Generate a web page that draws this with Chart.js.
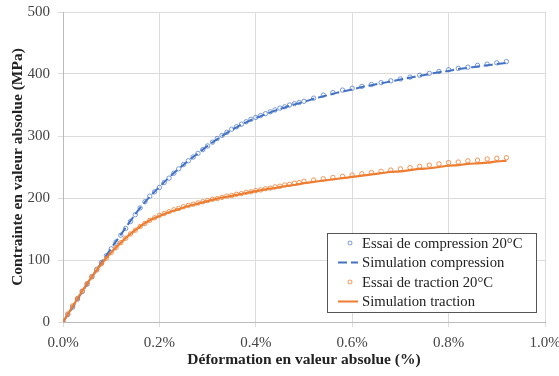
<!DOCTYPE html>
<html>
<head>
<meta charset="utf-8">
<script src="https://cdn.jsdelivr.net/npm/chart.js@4/dist/chart.umd.min.js"></script>
<style>
  html, body { margin: 0; padding: 0; background: #fff; }
  #wrap { width: 559px; height: 376px; position: relative; }
</style>
</head>
<body>
<div id="wrap"><canvas id="chart"></canvas></div>
<script>
// ---------------------------------------------------------------- data
var xTicks = [0, 0.2, 0.4, 0.6, 0.8, 1.0];   // deformation (%)
var yTicks = [0, 100, 200, 300, 400, 500];   // stress (MPa)

var seriesNames = ["Essai de compression 20°C", "Simulation compression",
                   "Essai de traction 20°C", "Simulation traction"];

// test points (strain %)
var testStrain = [0, 0.01, 0.02, 0.03, 0.04, 0.05, 0.06, 0.07, 0.08, 0.09,
  0.10, 0.11, 0.12, 0.13, 0.14, 0.15, 0.16, 0.17, 0.18, 0.19,
  0.20, 0.21, 0.22, 0.23, 0.24, 0.25, 0.26, 0.27, 0.28, 0.29,
  0.30, 0.31, 0.32, 0.33, 0.34, 0.35, 0.36, 0.37, 0.38, 0.39,
  0.40, 0.41, 0.42, 0.43, 0.44, 0.45, 0.46, 0.47, 0.48, 0.49, 0.50,
  0.52, 0.54, 0.56, 0.58, 0.60, 0.62, 0.64, 0.66, 0.68, 0.70,
  0.72, 0.74, 0.76, 0.78, 0.80, 0.82, 0.84, 0.86, 0.88, 0.90, 0.92];

var compTest = [0, 12, 24, 37, 49, 61, 73, 85, 96, 107,
  118, 129, 140, 151, 162, 173, 184, 194, 203, 210,
  217, 225, 232, 240, 247, 254, 260, 266, 272, 278,
  284, 290, 296, 301, 306, 311, 315, 319, 323, 327,
  330, 333, 336, 339, 342, 345, 347, 350, 352, 354, 356,
  361, 366, 370, 374, 377, 380, 383, 386, 389, 392,
  395, 398, 401, 404, 407, 409, 411, 414, 416, 418, 420];

var tracTest = [0, 13, 26, 38, 50, 62, 73, 84, 94, 103,
  112, 120, 128, 135, 142, 148, 154, 159, 164, 168,
  172, 175, 178, 181, 183, 186, 188, 190, 192, 194,
  196, 198, 199, 201, 203, 204, 206, 207, 209, 210,
  212, 213, 215, 216, 218, 219, 221, 222, 224, 225, 227,
  229, 231, 233, 235, 237, 239, 241, 243, 245, 247,
  249, 251, 253, 255, 257, 258, 260, 261, 263, 264, 265];

// simulation curves (strain %)
var simStrain = [0, 0.02, 0.04, 0.06, 0.08, 0.10, 0.12, 0.14, 0.16, 0.18,
  0.20, 0.22, 0.24, 0.26, 0.28, 0.30, 0.32, 0.34, 0.36, 0.38,
  0.40, 0.42, 0.44, 0.46, 0.48, 0.50, 0.52, 0.54, 0.56, 0.58,
  0.60, 0.62, 0.64, 0.66, 0.68, 0.70, 0.72, 0.74, 0.76, 0.78,
  0.80, 0.82, 0.84, 0.86, 0.88, 0.90, 0.92];

var compSim = [0, 24, 49, 73, 96, 119, 141, 163, 184, 202,
  218, 233, 247, 260, 272, 284, 295, 305, 314, 322,
  329, 335, 341, 346, 351, 355, 360, 364, 368, 372,
  375, 379, 382, 385, 388, 391, 394, 397, 400, 403,
  405, 408, 410, 412, 414, 416, 418];

var tracSim = [0, 25, 50, 73, 94, 112, 128, 142, 154, 164,
  171, 177, 182, 187, 191, 195, 199, 202, 205, 208,
  211, 214, 216, 219, 221, 224, 226, 228, 230, 232,
  234, 236, 238, 240, 242, 243, 245, 247, 248, 250,
  252, 253, 255, 256, 257, 259, 260];

var BLUE = "#4472C4", ORANGE = "#ED7D31";
var FONT = "'Liberation Serif', 'DejaVu Serif', serif";

function pts(xs, ys) {
  return xs.map(function (x, i) { return { x: x, y: ys[i] }; });
}

// ---------------------------------------------------------------- legend inside the plot
var boxLegend = {
  id: 'boxLegend',
  afterDraw: function (chart) {
    var ctx = chart.ctx, a = chart.chartArea;
    var w = 209, h = 79, rowH = 19.5;
    var x0 = a.right - 9 - w, y0 = a.bottom - 10 - h;
    ctx.save();
    ctx.fillStyle = "#fff";
    ctx.fillRect(x0, y0, w, h);
    ctx.strokeStyle = "#555";
    ctx.lineWidth = 1;
    ctx.strokeRect(x0 + 0.5, y0 + 0.5, w, h);
    ctx.font = "14.7px " + FONT;
    ctx.textBaseline = "middle";
    chart.data.datasets.forEach(function (ds, i) {
      var cy = y0 + 10 + rowH * i;
      var sx = x0 + 11;
      if (ds.showLine === false) {
        ctx.beginPath();
        ctx.arc(sx + 12, cy, 2, 0, Math.PI * 2);
        ctx.strokeStyle = ds.borderColor;
        ctx.lineWidth = 1;
        ctx.stroke();
      } else {
        ctx.beginPath();
        ctx.moveTo(sx, cy);
        ctx.lineTo(sx + 20, cy);
        ctx.strokeStyle = ds.borderColor;
        ctx.lineWidth = 2;
        ctx.setLineDash(ds.borderDash || []);
        ctx.stroke();
        ctx.setLineDash([]);
      }
      ctx.fillStyle = "#222";
      ctx.fillText(ds.label, x0 + 35, cy + 1);
    });
    ctx.restore();
  }
};

var config = {
  type: 'scatter',
  data: {
    datasets: [{
      label: seriesNames[0],
      data: pts(testStrain, compTest),
      showLine: false,
      borderColor: "rgba(68,114,196,0.7)",
      backgroundColor: "rgba(255,255,255,0)",
      pointRadius: 2.2,
      borderWidth: 1,
      order: 4
    }, {
      label: seriesNames[1],
      data: pts(simStrain, compSim),
      showLine: true,
      borderColor: BLUE,
      borderWidth: 2,
      borderDash: [9, 4],
      pointRadius: 0,
      tension: 0.4,
      order: 2
    }, {
      label: seriesNames[2],
      data: pts(testStrain, tracTest),
      showLine: false,
      borderColor: "rgba(237,125,49,0.8)",
      backgroundColor: "rgba(255,255,255,0)",
      pointRadius: 2.2,
      borderWidth: 1,
      order: 3
    }, {
      label: seriesNames[3],
      data: pts(simStrain, tracSim),
      showLine: true,
      borderColor: ORANGE,
      borderWidth: 2.2,
      pointRadius: 0,
      tension: 0.4,
      order: 1
    }]
  },
  options: {
    responsive: true,
    maintainAspectRatio: false,
    animation: false,
    layout: { padding: { top: 12, right: 0, left: 6, bottom: 4 } },
    plugins: {
      legend: { display: false },
      tooltip: { enabled: false }
    },
    scales: {
      x: {
        type: 'linear',
        min: 0, max: 1,
        afterBuildTicks: function (s) { s.ticks = xTicks.map(function (v) { return { value: v }; }); },
        afterFit: function (s) { s.height = 50; s.paddingRight = 14; },
        ticks: {
          font: { family: FONT, size: 15 }, color: "#444", padding: 7,
          callback: function (v) { return v.toFixed(1) + '%'; }
        },
        grid: { color: "#dcdcdc", tickLength: 5 },
        border: { color: "#bbb" },
        title: {
          display: true, text: "Déformation en valeur absolue (%)",
          font: { family: FONT, size: 15.5, weight: 'bold' }, color: "#222",
          padding: { top: 0, bottom: 3 }
        }
      },
      y: {
        min: 0, max: 500,
        afterBuildTicks: function (s) { s.ticks = yTicks.map(function (v) { return { value: v }; }); },
        afterFit: function (s) { s.width = 57; s.paddingTop = 0; },
        ticks: { font: { family: FONT, size: 15 }, color: "#444", padding: 8 },
        grid: { color: "#dcdcdc", tickLength: 5 },
        border: { color: "#bbb" },
        title: {
          display: true, text: "Contrainte en valeur absolue (MPa)",
          font: { family: FONT, size: 15.5, weight: 'bold' }, color: "#222",
          padding: { top: 3, bottom: 0 }
        }
      }
    }
  },
  plugins: [boxLegend]
};

window.myChart = new Chart(document.getElementById("chart"), config);
</script>
</body>
</html>
